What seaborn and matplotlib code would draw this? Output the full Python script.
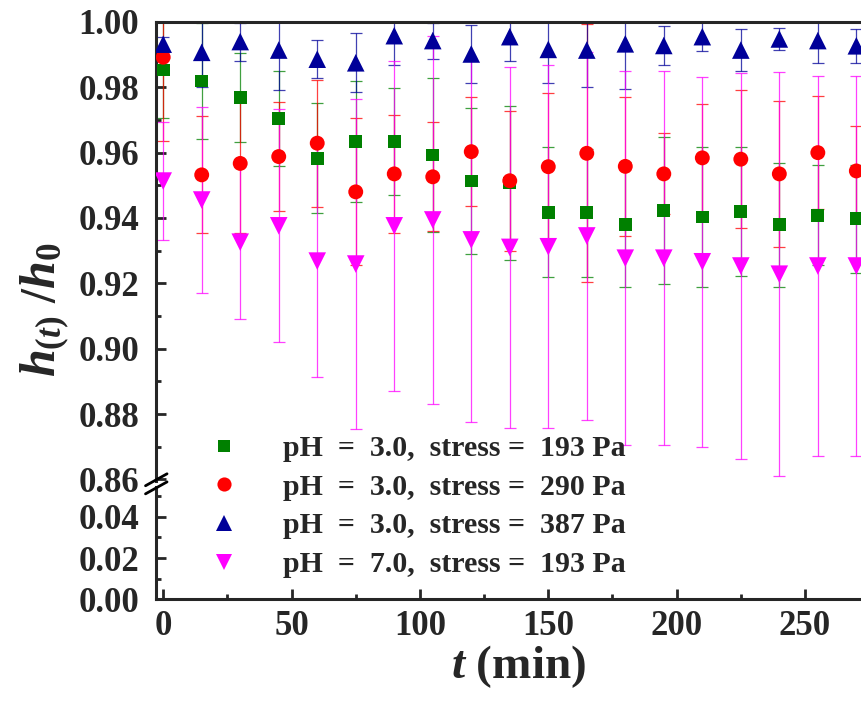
import numpy as np
import pandas as pd
import seaborn as sns
import matplotlib.pyplot as plt
from matplotlib.lines import Line2D
from matplotlib.ticker import MultipleLocator

sns.set_style("ticks")
plt.rcParams['font.family'] = ['Liberation Serif', 'DejaVu Serif']
plt.rcParams['font.weight'] = 'bold'
plt.rcParams['mathtext.fontset'] = 'custom'
plt.rcParams['mathtext.it'] = 'Liberation Serif:bold:italic'
plt.rcParams['mathtext.rm'] = 'Liberation Serif:bold'
plt.rcParams['mathtext.bf'] = 'Liberation Serif:bold'

time_min = [0, 15, 30, 45, 60, 75, 90, 105, 120, 135,
            150, 165, 180, 195, 210, 225, 240, 255, 270]

labels = ["pH  =  3.0,  stress =  193 Pa",
          "pH  =  3.0,  stress =  290 Pa",
          "pH  =  3.0,  stress =  387 Pa",
          "pH  =  7.0,  stress =  193 Pa"]

h_193 = [0.9853, 0.9819, 0.9768, 0.9705, 0.9583, 0.9634, 0.9634, 0.9593, 0.9513, 0.9507,
         0.9418, 0.9416, 0.9380, 0.9422, 0.9403, 0.9420, 0.9379, 0.9408, 0.9398]
err_193 = [0.0146, 0.0178, 0.0136, 0.0145, 0.0169, 0.0184, 0.0163, 0.0235, 0.0223, 0.0236,
           0.0198, 0.0196, 0.0190, 0.0225, 0.0215, 0.0198, 0.0190, 0.0153, 0.0165]

h_290 = [0.9892, 0.9532, 0.9567, 0.9588, 0.9629, 0.9480, 0.9535, 0.9526, 0.9603, 0.9514,
         0.9557, 0.9598, 0.9558, 0.9535, 0.9584, 0.9580, 0.9535, 0.9600, 0.9544]
err_290 = [0.0256, 0.0179, 0.0212, 0.0167, 0.0194, 0.0225, 0.0180, 0.0167, 0.0166, 0.0214,
           0.0226, 0.0395, 0.0212, 0.0124, 0.0165, 0.0212, 0.0223, 0.0173, 0.0139]

h_387 = [0.9932, 0.9907, 0.9940, 0.9914, 0.9886, 0.9875, 0.9958, 0.9943, 0.9902, 0.9955,
         0.9916, 0.9914, 0.9933, 0.9928, 0.9955, 0.9914, 0.9948, 0.9943, 0.9927]
err_387 = [0.0022, 0.0105, 0.0058, 0.0123, 0.0058, 0.0090, 0.0091, 0.0055, 0.0090, 0.0074,
           0.0104, 0.0112, 0.0137, 0.0059, 0.0044, 0.0063, 0.0034, 0.0068, 0.0052]

h_ph7 = [0.9513, 0.9455, 0.9326, 0.9376, 0.9268, 0.9259, 0.9376, 0.9394, 0.9333, 0.9310,
         0.9312, 0.9345, 0.9277, 0.9277, 0.9266, 0.9253, 0.9228, 0.9253, 0.9253]
err_ph7 = [0.0180, 0.0285, 0.0235, 0.0357, 0.0356, 0.0506, 0.0505, 0.0564, 0.0557, 0.0553,
           0.0556, 0.0564, 0.0572, 0.0573, 0.0567, 0.0591, 0.0619, 0.0581, 0.0581]

colors = ['#008000', '#FF0000', '#000099', '#FF00FF']
markers = ['s', 'o', '^', 'v']
sizes = [85, 115, 160, 160]

values = [h_193, h_290, h_387, h_ph7]
errors = [err_193, err_290, err_387, err_ph7]

df = pd.concat([pd.DataFrame({'t': time_min, 'h': v, 'err': e, 'series': lab})
                for v, e, lab in zip(values, errors, labels)], ignore_index=True)

fig = plt.figure(figsize=(8.61, 7.04), dpi=100)
ax_top = fig.add_axes([0.1812, 0.3168, 0.8432, 0.6520])
ax_bot = fig.add_axes([0.1812, 0.1491, 0.8432, 0.1591])

for ax in (ax_top, ax_bot):
    for lab, c, m, s in zip(labels, colors, markers, sizes):
        d = df[df['series'] == lab]
        ax.errorbar(d['t'], d['h'], yerr=d['err'], fmt='none', ecolor=c, elinewidth=0.9,
                    capsize=4.5, capthick=0.9, alpha=0.75, zorder=2)
        sns.scatterplot(data=d, x='t', y='h', ax=ax, color=c, marker=m, s=s,
                        edgecolor='none', linewidth=0, legend=False, zorder=3)
    ax.set_xlim(-2.8, 280)
    ax.set_xlabel('')
    ax.set_ylabel('')
    ax.xaxis.set_major_locator(MultipleLocator(50))
    ax.xaxis.set_minor_locator(MultipleLocator(25))
    ax.yaxis.set_major_locator(MultipleLocator(0.02))
    ax.yaxis.set_minor_locator(MultipleLocator(0.01))
    ax.tick_params(which='major', direction='in', length=7, width=2.0, labelsize=25, pad=8)
    ax.tick_params(axis='y', which='major', pad=12)
    ax.tick_params(which='minor', direction='in', length=3.8, width=2.0)
    ax.tick_params(right=False, which='both')
    for sp in ax.spines.values():
        sp.set_linewidth(2.2)
    ax.spines['right'].set_visible(False)
    ax.yaxis.set_major_formatter(plt.FormatStrFormatter('%.2f'))

ax_top.set_ylim(0.8595, 1.0)
ax_top.spines['bottom'].set_visible(False)
ax_top.tick_params(axis='x', which='both', bottom=False, labelbottom=False, top=False)

ax_bot.set_ylim(0, 0.0546)
ax_bot.set_yticks([0.0, 0.02, 0.04])
ax_bot.spines['top'].set_visible(False)
ax_bot.tick_params(axis='x', which='both', top=False)

# axis break marks
for yb in (0.3185, 0.3070):
    fig.add_artist(Line2D([0.1690, 0.1940], [yb - 0.0085, yb + 0.0085], color='black',
                          lw=2.0, transform=fig.transFigure))

ax_bot.set_xlabel(r'$t$ (min)', fontsize=34, fontweight='bold', labelpad=0)
fig.text(0.052, 0.56, r'$h_{(t)}$ /$h_{\mathit{0}}$', rotation=90, fontsize=36,
         ha='center', va='center')

handles = [Line2D([], [], ls='none', marker=m, color=c, markersize=np.sqrt(s) * 0.95,
                  markeredgewidth=0) for c, m, s in zip(colors, markers, sizes)]
fig.legend(handles, labels, loc='upper left', bbox_to_anchor=(0.2427, 0.382),
           frameon=False, fontsize=21.5, handlelength=1.0, handletextpad=1.47,
           labelspacing=0.39, borderpad=0, borderaxespad=0)

fig.savefig('out.png', dpi=100)
